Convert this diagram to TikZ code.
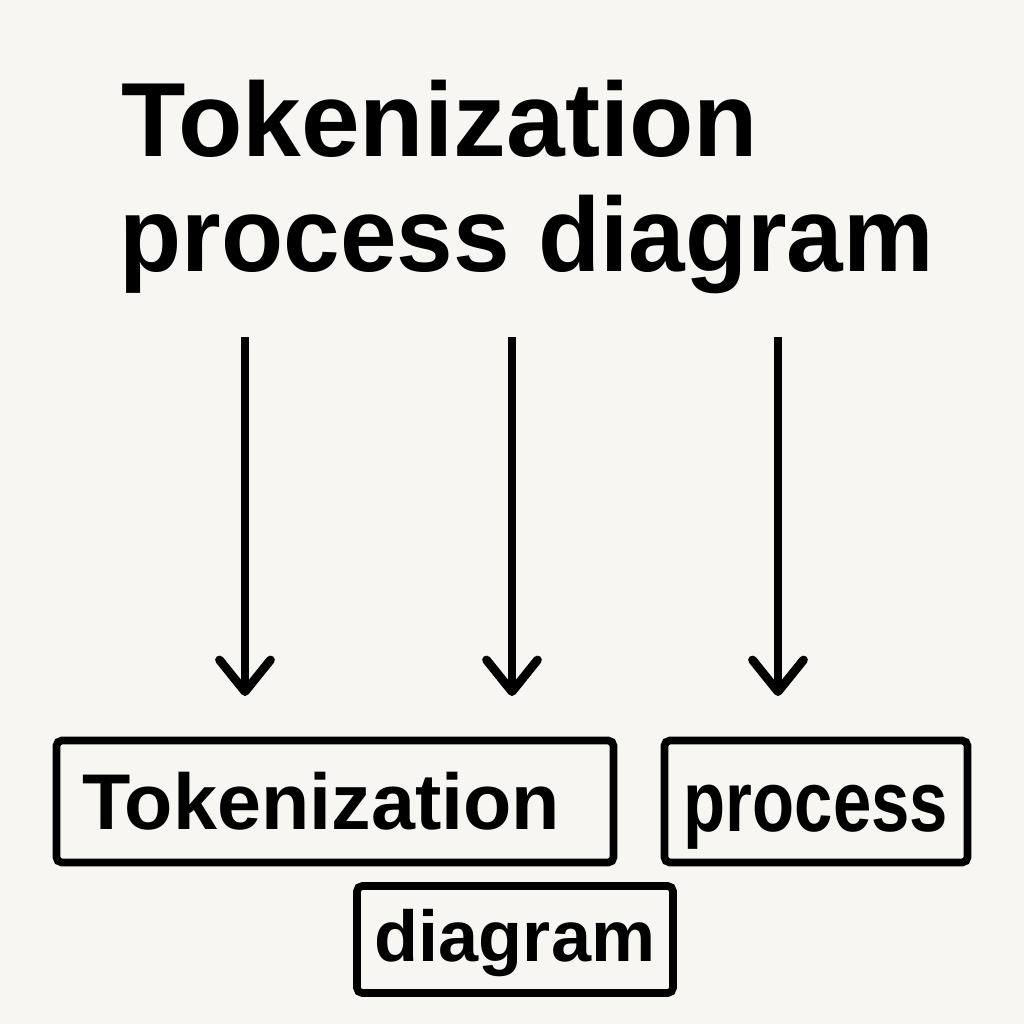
\documentclass[tikz,border=0pt]{standalone}
\usepackage{fontspec}
\setmainfont{Liberation Sans}
\usetikzlibrary{positioning,arrows.meta}
\definecolor{paper}{HTML}{F7F6F2}

\begin{document}
\begin{tikzpicture}[
  title/.style={font=\bfseries\fontsize{30}{36}\selectfont, inner sep=0pt, anchor=base west},
  word/.style={draw=black, line width=2.2pt, rounded corners=1.5pt, minimum height=1.22cm, text depth=0pt, inner xsep=0pt, inner ysep=0pt},
  arrow/.style={-{Straight Barb[length=9pt,width=14.5pt,line cap=round,line join=round]}, line width=2.5pt}
  ]
  % ===== BACKGROUND =====
  \fill[paper] (0,0) rectangle (10.24,-10.24);
  \useasboundingbox (0,0) rectangle (10.24,-10.24);

  % ===== TITLE =====
  \node[title] (titleA) at (1.21,-1.56) {Tokenization};
  \node[title] (titleB) at (1.19,-2.71) {\scalebox{0.965}[1]{process diagram}};

  % ===== WORD BOXES =====
  \node[word, minimum width=5.57cm, text width=5.05cm, inner xsep=0.26cm, align=left, text height=16.2pt,
        font=\bfseries\fontsize{22.5}{27}\selectfont] (tok) at (3.35,-8.015) {Tokenization};
  \node[word, minimum width=3.03cm, text height=17.2pt,
        font=\bfseries\fontsize{24.5}{29}\selectfont] (proc) at (8.16,-8.015) {\scalebox{0.8}[1]{process}};
  \node[word, minimum width=3.16cm, minimum height=1.07cm, text height=12.6pt,
        font=\bfseries\fontsize{20.5}{25}\selectfont] (diag) at (5.15,-9.395) {diagram};

  % ===== ARROWS =====
  \coordinate (srcA) at (2.45,-3.37);  \coordinate (dstA) at (2.45,-6.96);
  \coordinate (srcB) at (5.12,-3.37);  \coordinate (dstB) at (5.12,-6.96);
  \coordinate (srcC) at (7.78,-3.37);  \coordinate (dstC) at (7.78,-6.96);

  \draw[arrow] (srcA) -- (dstA);
  \draw[arrow] (srcB) -- (dstB);
  \draw[arrow] (srcC) -- (dstC);
\end{tikzpicture}
\end{document}
